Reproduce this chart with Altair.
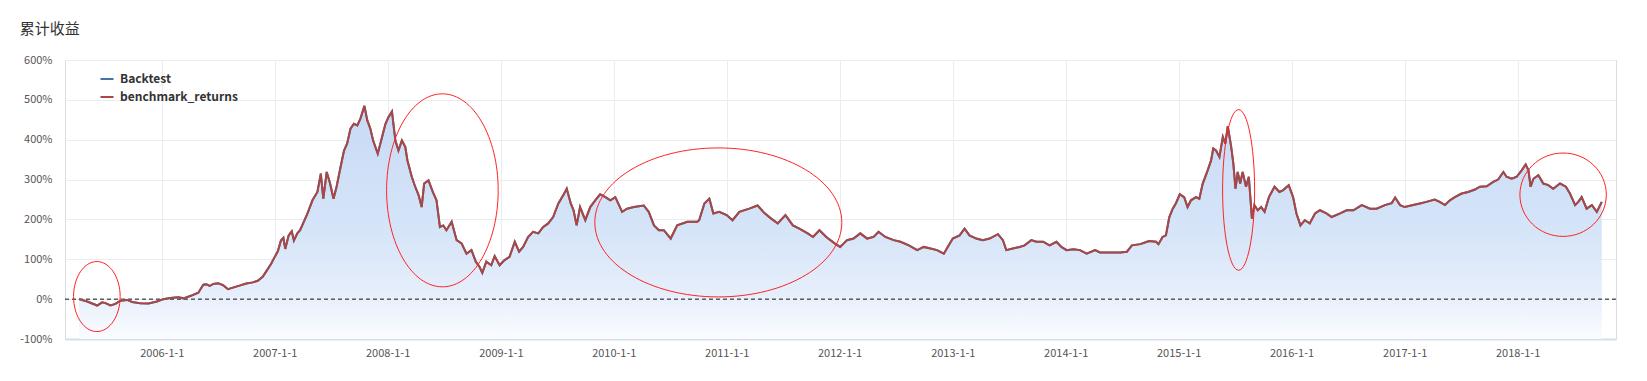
import altair as alt
import pandas as pd

# ---------------- data ----------------
title_text = "累计收益"
series_names = ["Backtest", "benchmark_returns"]

dates = [
    "2005-04-08", "2005-05-05", "2005-06-06", "2005-06-22", "2005-07-03", "2005-07-19", "2005-08-04",
    "2005-08-20", "2005-09-11", "2005-09-27", "2005-10-23", "2005-11-19", "2005-12-16",
    "2006-01-06", "2006-01-28", "2006-02-23", "2006-03-12", "2006-04-07", "2006-04-29", "2006-05-15",
    "2006-05-25", "2006-06-05", "2006-06-16", "2006-07-02", "2006-07-18", "2006-08-03", "2006-08-19",
    "2006-09-09", "2006-10-01", "2006-10-22", "2006-11-07", "2006-11-23", "2006-12-04", "2006-12-20",
    "2007-01-01", "2007-01-11", "2007-01-21", "2007-01-29", "2007-02-04", "2007-02-15", "2007-02-25",
    "2007-03-04", "2007-03-15", "2007-03-24", "2007-04-17", "2007-05-03", "2007-05-19", "2007-05-30",
    "2007-06-07", "2007-06-18", "2007-06-29", "2007-07-10", "2007-07-20", "2007-08-02", "2007-08-13",
    "2007-08-23", "2007-09-03", "2007-09-14", "2007-09-25", "2007-10-05", "2007-10-18", "2007-10-27",
    "2007-11-06", "2007-11-15", "2007-11-30", "2007-12-14", "2007-12-25",
    "2008-01-04", "2008-01-15", "2008-01-26", "2008-02-05", "2008-02-16", "2008-02-27", "2008-03-05",
    "2008-03-19", "2008-03-30", "2008-04-10", "2008-04-20", "2008-04-28", "2008-05-12", "2008-05-26",
    "2008-06-07", "2008-06-18", "2008-06-29", "2008-07-09", "2008-07-26", "2008-08-11", "2008-08-27",
    "2008-09-12", "2008-09-28", "2008-10-12", "2008-10-24", "2008-11-02", "2008-11-15", "2008-12-01",
    "2008-12-12", "2008-12-28",
    "2009-01-13", "2009-01-29", "2009-02-15", "2009-03-01", "2009-03-14", "2009-03-30", "2009-04-15",
    "2009-05-02", "2009-05-18", "2009-06-03", "2009-06-19", "2009-07-06", "2009-07-22", "2009-08-02",
    "2009-08-15", "2009-08-24", "2009-09-03", "2009-09-14", "2009-10-01", "2009-10-17", "2009-11-02",
    "2009-11-18", "2009-12-05", "2009-12-21",
    "2010-01-06", "2010-01-28", "2010-02-13", "2010-03-07", "2010-04-08", "2010-04-24", "2010-05-11",
    "2010-05-27", "2010-06-12", "2010-07-04", "2010-07-25", "2010-08-27", "2010-09-28", "2010-10-04",
    "2010-10-21", "2010-11-06", "2010-11-19", "2010-12-08",
    "2011-01-01", "2011-01-20", "2011-02-11", "2011-03-15", "2011-04-11", "2011-05-03", "2011-05-25",
    "2011-06-15", "2011-07-10", "2011-08-03", "2011-08-24", "2011-09-20", "2011-10-07", "2011-10-28",
    "2011-11-19", "2011-12-16",
    "2012-01-03", "2012-01-25", "2012-02-15", "2012-03-08", "2012-03-30", "2012-04-20", "2012-05-06",
    "2012-05-28", "2012-06-24", "2012-07-16", "2012-08-12", "2012-09-08", "2012-09-29", "2012-10-21",
    "2012-11-11", "2012-12-03", "2012-12-19",
    "2013-01-01", "2013-01-23", "2013-02-08", "2013-02-24", "2013-03-18", "2013-04-08", "2013-04-30",
    "2013-05-27", "2013-06-12", "2013-06-23", "2013-07-14", "2013-08-05", "2013-08-21", "2013-09-12",
    "2013-09-28", "2013-10-20", "2013-11-10", "2013-12-02", "2013-12-18",
    "2014-01-04", "2014-01-26", "2014-02-16", "2014-03-10", "2014-04-06", "2014-04-22", "2014-05-24",
    "2014-06-26", "2014-07-18", "2014-08-03", "2014-08-30", "2014-09-21", "2014-09-28", "2014-10-20",
    "2014-10-28", "2014-11-10", "2014-11-21", "2014-12-02", "2014-12-13", "2014-12-23",
    "2015-01-05", "2015-01-19", "2015-01-30", "2015-02-10", "2015-02-26", "2015-03-09", "2015-03-20",
    "2015-04-05", "2015-04-16", "2015-04-23", "2015-05-02", "2015-05-13", "2015-05-24", "2015-06-01",
    "2015-06-09", "2015-06-20", "2015-06-27", "2015-07-04", "2015-07-11", "2015-07-19", "2015-07-27",
    "2015-08-07", "2015-08-16", "2015-08-26", "2015-09-03", "2015-09-14", "2015-09-25", "2015-10-06",
    "2015-10-20", "2015-11-07", "2015-11-23", "2015-12-04", "2015-12-23",
    "2016-01-06", "2016-01-17", "2016-01-30", "2016-02-13", "2016-02-29", "2016-03-17", "2016-04-02",
    "2016-04-23", "2016-05-10", "2016-06-06", "2016-06-27", "2016-07-19", "2016-08-15", "2016-09-11",
    "2016-10-02", "2016-10-29", "2016-11-20", "2016-12-01", "2016-12-17",
    "2017-01-01", "2017-01-28", "2017-02-19", "2017-03-12", "2017-04-08", "2017-04-24", "2017-05-11",
    "2017-05-27", "2017-06-12", "2017-07-04", "2017-07-25", "2017-08-16", "2017-09-01", "2017-09-23",
    "2017-10-14", "2017-10-30", "2017-11-16", "2017-11-26", "2017-12-13", "2017-12-29",
    "2018-01-14", "2018-01-27", "2018-02-05", "2018-02-12", "2018-02-21", "2018-03-09", "2018-03-25",
    "2018-04-10", "2018-04-26", "2018-05-18", "2018-06-06", "2018-06-19", "2018-07-06", "2018-07-16",
    "2018-07-27", "2018-08-12", "2018-08-29", "2018-09-14", "2018-09-30",
]

returns_pct = [
    0, -6, -16, -8, -10, -16, -12,
    -4, -2, -7, -10, -11, -6,
    0, 3, 5, 2, 9, 16, 36,
    37, 33, 38, 40, 35, 25, 29,
    34, 39, 42, 46, 56, 69, 88,
    106, 120, 147, 154, 126, 160, 170,
    147, 165, 173, 215, 248, 269, 315,
    252, 319, 290, 252, 282, 332, 373,
    390, 428, 440, 436, 453, 485, 449,
    428, 398, 365, 407, 440,
    457, 471, 398, 373, 398, 382, 348,
    307, 282, 261, 231, 290, 298, 269,
    248, 181, 185, 173, 194, 148, 140,
    114, 123, 94, 81, 66, 94, 85,
    108, 85,
    98, 106, 144, 119, 131, 156, 169,
    165, 181, 190, 206, 240, 261, 277,
    240, 223, 185, 231, 198, 231, 248,
    263, 256, 248,
    256, 219, 227, 231, 235, 219, 185,
    173, 173, 152, 185, 194, 194, 198,
    240, 252, 215, 219,
    211, 198, 219, 227, 235, 216, 202,
    190, 211, 185, 177, 165, 156, 173,
    156, 140,
    131, 148, 152, 165, 152, 156, 169,
    156, 148, 144, 135, 123, 131, 127,
    123, 114, 135,
    152, 160, 177, 160, 152, 148, 152,
    163, 148, 123, 127, 131, 135, 148,
    144, 144, 135, 144, 131,
    123, 125, 123, 114, 123, 117, 117,
    117, 119, 135, 138, 144, 146, 144,
    138, 156, 160, 206, 227, 240,
    263, 256, 231, 248, 256, 252, 290,
    323, 348, 378, 373, 357, 407, 390,
    434, 382, 340, 277, 319, 290, 319,
    282, 307, 202, 236, 223, 231, 219,
    256, 282, 269, 273, 286,
    256, 215, 185, 198, 190, 215, 223,
    215, 206, 215, 223, 223, 236, 227,
    227, 236, 241, 255, 236,
    231, 236, 240, 244, 250, 244, 236,
    248, 256, 265, 269, 275, 282, 283,
    294, 300, 319, 307, 302, 307,
    323, 338, 323, 282, 302, 311, 290,
    286, 277, 290, 282, 265, 236, 244,
    256, 227, 236, 219, 244,
]

tick_years = list(range(2006, 2019))
y_ticks = [-100, 0, 100, 200, 300, 400, 500, 600]
zero_level = [0]

# red annotation ellipses: centre date / centre value
ellipse_dates = ["2005-06-05", "2008-06-26", "2010-12-05", "2015-07-14", "2018-05-28"]
ellipse_values = [6.5, 273, 192.5, 274, 262]

# ---------------- styling ----------------
FONT = "Noto Sans CJK SC"
series_colors = ["#4572A7", "#AA4643"]
ellipse_radii_px = [(23.3, 35), (55.8, 96.5), (123.5, 74.5), (16, 80.3), (43.2, 41.7)]


def ellipse_path(rx, ry):
    r = max(rx, ry)
    a, b = rx / r, ry / r
    k = 0.5523
    f = lambda v: f"{v:.4f}"
    return (
        f"M {f(a)} 0 C {f(a)} {f(k*b)} {f(k*a)} {f(b)} 0 {f(b)} "
        f"C {f(-k*a)} {f(b)} {f(-a)} {f(k*b)} {f(-a)} 0 "
        f"C {f(-a)} {f(-k*b)} {f(-k*a)} {f(-b)} 0 {f(-b)} "
        f"C {f(k*a)} {f(-b)} {f(a)} {f(-k*b)} {f(a)} 0 Z"
    ), (2 * r) ** 2


base_df = pd.DataFrame({"date": dates, "value": returns_pct})
long_df = pd.concat([base_df.assign(series=s) for s in series_names], ignore_index=True)
ell_df = pd.DataFrame({"date": ellipse_dates, "value": ellipse_values})
zero_df = pd.DataFrame({"value": zero_level})

x_enc = alt.X(
    "date:T",
    title=None,
    scale=alt.Scale(
        domain=[alt.DateTime(year=2005, month=2, date=22), alt.DateTime(year=2018, month=11, date=15)],
        nice=False,
    ),
    axis=alt.Axis(
        values=[alt.DateTime(year=y, month=1, date=1) for y in tick_years],
        format="%Y-%-m-%-d",
        grid=True,
        gridColor="#e9edf2",
        gridWidth=1,
        ticks=False,
        tickSize=0,
        domainColor="#d5dded",
        domainWidth=2,
        labelPadding=8,
        labelFont=FONT,
        labelFontSize=11,
        labelColor="#555",
    ),
)
y_enc = alt.Y(
    "value:Q",
    title=None,
    scale=alt.Scale(domain=[-100, 600], nice=False),
    axis=alt.Axis(
        values=y_ticks,
        labelExpr="datum.value + '%'",
        grid=True,
        gridColor="#e9edf2",
        gridWidth=1,
        ticks=False,
        tickSize=0,
        domain=False,
        labelPadding=13,
        labelFont=FONT,
        labelFontSize=11,
        labelColor="#555",
    ),
)

gradient = alt.Gradient(
    gradient="linear",
    x1=0, x2=0, y1=0, y2=1,
    stops=[
        alt.GradientStop(offset=0, color="#c7daf5"),
        alt.GradientStop(offset=0.55, color="#d6e5f8"),
        alt.GradientStop(offset=0.8, color="#e6eefb"),
        alt.GradientStop(offset=1, color="#fafcff"),
    ],
)

area = alt.Chart(base_df).mark_area(color=gradient).encode(x=x_enc, y=y_enc, y2=alt.datum(-100))

zero = alt.Chart(zero_df).mark_rule(
    color="#111", strokeDash=[4, 3], strokeWidth=1
).encode(y=y_enc)

lines = alt.Chart(long_df).mark_line(strokeWidth=2).encode(
    x=x_enc,
    y=y_enc,
    color=alt.Color(
        "series:N",
        scale=alt.Scale(domain=series_names, range=series_colors),
        legend=alt.Legend(
            title=None,
            orient="none",
            legendX=34,
            legendY=11,
            direction="vertical",
            symbolType="stroke",
            symbolStrokeWidth=2,
            symbolSize=170,
            labelFont=FONT,
            labelFontSize=12,
            labelFontWeight="bold",
            labelColor="#333",
            rowPadding=4,
            labelOffset=5,
        ),
    ),
)

ellipse_layers = []
for i, (rx, ry) in enumerate(ellipse_radii_px):
    path, size = ellipse_path(rx, ry)
    ellipse_layers.append(
        alt.Chart(ell_df.iloc[[i]]).mark_point(
            shape=path, size=size, filled=False, stroke="#f22", strokeWidth=1, opacity=1
        ).encode(x=x_enc, y=y_enc)
    )

chart = alt.layer(area, zero, lines, *ellipse_layers).properties(
    width=1551,
    height=279,
    padding={"left": 57, "top": 52, "right": 23, "bottom": 34},
    autosize=alt.AutoSizeParams(type="none"),
    title=alt.TitleParams(
        title_text, anchor="start", font=FONT, fontSize=15, fontWeight="normal", color="#333", offset=17
    ),
).configure_view(strokeWidth=0, stroke="transparent").configure(background="white")

chart.save("out.html", embed_options={"renderer": "svg", "actions": False})
